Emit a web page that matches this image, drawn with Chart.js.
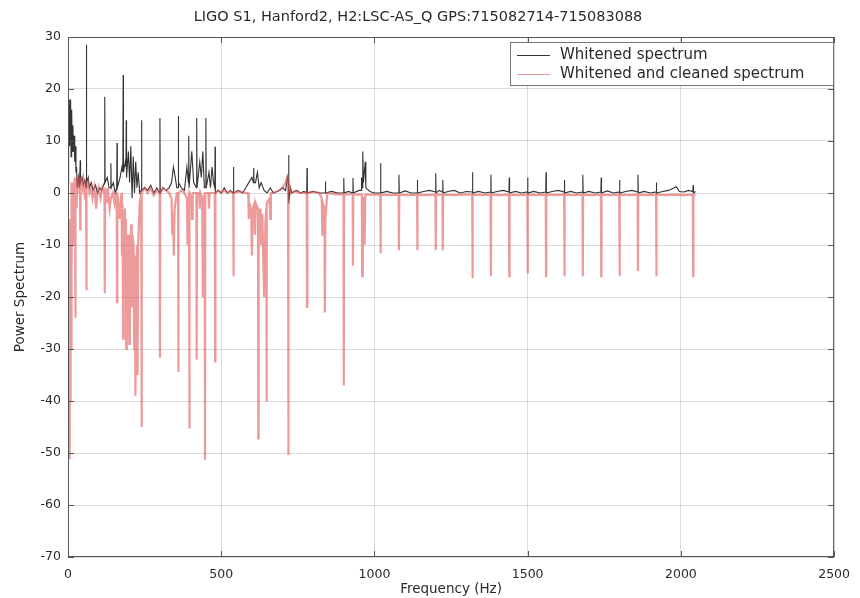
<!DOCTYPE html>
<html>
<head>
<meta charset="utf-8">
<title>LIGO S1 whitened spectrum</title>
<script src="https://cdn.jsdelivr.net/npm/chart.js@4.4.0/dist/chart.umd.min.js"></script>
<style>
  html, body { margin: 0; padding: 0; background: #fff; }
  #wrap { width: 860px; height: 598px; }
</style>
</head>
<body>
<div id="wrap"><canvas id="spectrum" width="860" height="598"></canvas></div>
<script>
// values: [frequency Hz, power]
const whitenedPoints = [
  [0,2],[1,12],[2,8],[3,17],[4,10],[5,18],[6,9],[7,15],[8,11],[9,18],[10,7],[11,14],[12,9],[13,16],[14,8],[16,13],[18,8],[20,11],[22,6],[24,9],[26,4],[28,5],[30,1],
  [34,3],[37,1],[39,1],[40,6.3],[41,2],[46,3],[50,1.5],[55,2.5],[59,1],[60,28.5],[61,2],[66,3],[70,1],[76,2],[82,0.5],[90,1.5],[96,0],[104,1],[110,0.5],
  [119,2],[120,18.5],[121,2],[128,3],[134,1],[139,1],[140,5.7],[141,1],[148,2],[154,0],[159,1],[160,9.6],[161,1],[170,3],[176,5],[179,4],[180,22.7],[181,4],
  [187,6],[189,5],[190,14],[191,3],[197,8],[201,2],[205,9],[209,-1],[213,7],[217,0],[221,6],[225,1],[229,4],[234,0],[239,0.5],[240,14],[241,0.5],[250,1],
  [260,0.5],[270,1.5],[280,0],[290,1],[299,0],[300,14.4],[301,0],[310,1],[320,0.5],[330,1],[338,2],[344,5],[350,3],[355,1],[359,1],[360,14.8],[361,2],
  [370,1],[380,0.5],[388,5],[393,2],[394,11],[395,1],[404,8],[410,2],[419,1],[420,14.4],[421,1],[430,6],[435,3],[440,8],[445,1],[449,1],[450,14.4],[451,1],
  [460,4],[465,1],[470,5],[475,2],[479,1],[480,8.9],[481,0],[490,0.5],[500,0],[510,1],[520,0],[530,0.5],[539,0],[540,5],[541,0],[555,0.5],[570,0],[580,1],
  [590,2],[600,3],[605,2],[606,4.8],[607,2],[612,2],[618,4],[624,1],[630,2],[640,0.5],[650,0],[660,1],[670,0],[690,0.5],[700,1],[710,0.5],[716,3],[719,2],
  [720,7.3],[721,-2],[726,1],[730,0],[745,0.5],[760,0],[770,0.3],[779,0],[780,4.8],[781,0],[800,0.3],[820,0],[839,0],[840,2.2],[841,0],[860,0.3],[880,0],
  [899,0],[900,2.9],[901,0],[915,0.3],[929,0],[930,2.9],[931,0],[950,0.5],[957,0.5],[958,3],[960,1],[962,8],[964,2],[970,6],[972,1],[985,0.3],[1000,0],
  [1019,0],[1020,5.7],[1021,0],[1040,0.3],[1060,0],[1079,0],[1080,3.5],[1081,0],[1100,0.4],[1120,0],[1139,0],[1140,2.5],[1141,0],[1160,0.3],[1180,0.5],
  [1199,0.2],[1200,3.8],[1201,0],[1212,0.5],[1222,0.2],[1223,2.5],[1224,0],[1240,0.3],[1260,0.5],[1280,0],[1300,0.3],[1319,0.2],[1320,4],[1321,0],
  [1340,0.3],[1360,0],[1379,0.2],[1380,3.5],[1381,0],[1400,0.3],[1420,0.5],[1439,0.2],[1440,3],[1441,0],[1460,0.3],[1480,0],[1499,0.2],[1500,3],[1501,0],
  [1520,0.3],[1540,0],[1559,0.2],[1560,4],[1561,0],[1580,0.3],[1600,0.5],[1619,0.2],[1620,2.5],[1621,0],[1640,0.3],[1660,0],[1679,0.2],[1680,3.5],[1681,0],
  [1700,0.3],[1720,0],[1739,0.2],[1740,3],[1741,0],[1760,0.4],[1780,0],[1799,0.2],[1800,2.5],[1801,0],[1820,0.3],[1840,0.5],[1859,0.2],[1860,3.5],[1861,0],
  [1880,0.3],[1900,0],[1919,0.2],[1920,2],[1921,0],[1940,0.3],[1960,0.5],[1985,1.2],[1995,0.3],[2010,0.2],[2025,0.5],[2039,0.3],[2040,1.5],[2041,0],[2048,0.3]
];

const cleanedPoints = [
  [0,-5],[1,-30],[2,-45],[3,-20],[4,-51],[5,-35],[6,-48],[7,-10],[8,-40],[9,-5],[10,-30],[11,2],[12,-15],[14,1],[16,-10],[18,2],[20,-5],[22,3],[23,1],
  [24,-24],[25,2],[28,-3],[30,3],[33,0],[36,2],[39,1],[40,-7],[41,3],[47,1],[50,2.5],[54,0],[59,2],[60,-18.7],[61,1],[66,2],[70,0],[76,1],[80,-1],[86,1],
  [92,-3],[96,0],[100,1],[106,-1],[112,1],[119,0],[120,-19.3],[121,1],[126,-2],[130,1],[136,-3],[140,-1],[146,0],[152,-2],[156,0],[159,0],[160,-21],[161,0],
  [168,-5],[172,-1],[175,0],[176,-12],[178,-2],[180,-28],[182,-8],[186,-3],[187,-20],[189,-5],[190,-30],[192,-10],[196,-8],[197,-25],[199,-12],[200,-29],
  [202,-15],[206,-6],[208,-22],[210,-8],[214,-10],[216,-30],[218,-12],[220,-39],[222,-20],[225,-10],[227,-35],[229,-10],[234,-2],[239,0],[240,-45],[241,0],
  [250,1],[260,0],[270,1],[280,-0.5],[290,0.5],[299,0],[300,-31.7],[301,0],[310,1],[320,0.5],[330,0],[338,-1],[340,-8],[343,-4],[345,-12],[348,-3],[355,0],
  [359,0],[360,-34.4],[361,0],[370,0.5],[380,0],[388,-1],[390,-10],[392,-3],[395,0],[396,-45.3],[397,0],[403,-1],[405,-5],[407,0],[419,0],[420,-32],[421,0],
  [428,0],[430,-3],[432,0],[438,-1],[440,-20],[442,-2],[446,0],[447,-51.3],[448,0],[458,0],[460,-3],[462,0],[479,0],[480,-32.4],[481,0],[490,0.5],[500,0],
  [510,0.5],[520,0],[530,0.3],[539,0],[540,-16],[541,0],[560,0.3],[580,0],[588,0],[590,-5],[594,-2],[598,-4],[600,-12],[603,-3],[608,-2],[610,-8],[613,-2],
  [620,-3],[621,-47.2],[622,-5],[628,-3],[630,-10],[634,-4],[640,-20],[644,-6],[647,-3],[648,-40.1],[649,-2],[658,-1],[660,-5],[662,0],[670,0],[690,0.5],
  [700,1],[710,2],[715,3],[718,2],[719,-50.4],[720,2],[728,0],[740,0.3],[760,0],[779,0],[780,-21.9],[781,0],[800,0.2],[820,0],[828,-1],[830,-8],[832,-2],
  [837,-3],[838,-23],[840,-5],[846,0],[870,-0.2],[899,-0.3],[900,-37],[901,-0.3],[920,-0.2],[929,-0.3],[930,-14],[931,-0.3],[950,-0.3],[959,-0.3],[960,-16],
  [962,-1],[967,-1],[968,-10],[970,-0.3],[1000,-0.3],[1019,-0.3],[1020,-11.6],[1021,-0.3],[1050,-0.4],[1079,-0.3],[1080,-11],[1081,-0.3],[1110,-0.4],
  [1139,-0.3],[1140,-11],[1141,-0.3],[1170,-0.4],[1199,-0.3],[1200,-11],[1201,-0.3],[1222,-0.3],[1223,-11],[1224,-0.3],[1260,-0.4],[1290,-0.3],
  [1319,-0.3],[1320,-16.4],[1321,-0.3],[1350,-0.4],[1379,-0.3],[1380,-16],[1381,-0.3],[1410,-0.4],[1439,-0.3],[1440,-16],[1441,-0.3],[1470,-0.4],
  [1499,-0.3],[1500,-15.5],[1501,-0.3],[1530,-0.4],[1559,-0.3],[1560,-16],[1561,-0.3],[1590,-0.4],[1619,-0.3],[1620,-16],[1621,-0.3],[1650,-0.4],
  [1679,-0.3],[1680,-16],[1681,-0.3],[1710,-0.4],[1739,-0.3],[1740,-16],[1741,-0.3],[1770,-0.4],[1799,-0.3],[1800,-16],[1801,-0.3],[1830,-0.4],
  [1859,-0.3],[1860,-15],[1861,-0.3],[1890,-0.4],[1919,-0.3],[1920,-16],[1921,-0.3],[1950,-0.4],[1980,-0.3],[2010,-0.4],[2039,-0.3],[2040,-16],[2041,-0.3],
  [2048,-0.3]
];

const seriesLabels = ['Whitened spectrum', 'Whitened and cleaned spectrum'];
const chartTitle = 'LIGO S1, Hanford2, H2:LSC-AS_Q GPS:715082714-715083088';
const xRange = [0, 2500];
const yRange = [-70, 30];

const FONT = 'DejaVu Sans';
const TEXT = '#2a2a2a';
const GRID = 'rgba(0, 0, 0, 0.14)';
const colors = ['#333333', 'rgba(224, 92, 92, 0.62)'];

// MATLAB style box, inward ticks and legend inside the axes
const matlabFrame = {
  id: 'matlabFrame',
  afterDraw(chart) {
    const { ctx, chartArea: a, scales: { x, y } } = chart;
    ctx.save();
    ctx.strokeStyle = '#555';
    ctx.lineWidth = 1;
    ctx.strokeRect(a.left + 0.5, a.top + 0.5, a.width - 1, a.height - 1);

    ctx.beginPath();
    x.ticks.forEach(t => {
      const px = Math.round(x.getPixelForValue(t.value)) + 0.5;
      ctx.moveTo(px, a.bottom); ctx.lineTo(px, a.bottom - 6);
      ctx.moveTo(px, a.top); ctx.lineTo(px, a.top + 6);
    });
    y.ticks.forEach(t => {
      const py = Math.round(y.getPixelForValue(t.value)) + 0.5;
      ctx.moveTo(a.left, py); ctx.lineTo(a.left + 6, py);
      ctx.moveTo(a.right, py); ctx.lineTo(a.right - 6, py);
    });
    ctx.stroke();

    // legend
    const boxL = a.left + 442, boxT = a.top + 5, boxW = 323, boxH = 43;
    ctx.fillStyle = '#fff';
    ctx.fillRect(boxL, boxT, boxW, boxH);
    ctx.strokeStyle = '#777';
    ctx.strokeRect(boxL + 0.5, boxT + 0.5, boxW, boxH);
    ctx.font = '15px "' + FONT + '"';
    ctx.textBaseline = 'middle';
    chart.data.datasets.forEach((ds, i) => {
      const ly = boxT + 13 + i * 19;
      ctx.strokeStyle = ds.borderColor;
      ctx.lineWidth = 1;
      ctx.beginPath();
      ctx.moveTo(boxL + 7, ly + 0.5); ctx.lineTo(boxL + 40, ly + 0.5);
      ctx.stroke();
      ctx.fillStyle = TEXT;
      ctx.fillText(ds.label, boxL + 50, ly);
    });
    ctx.restore();
  }
};

const ctx = document.getElementById('spectrum').getContext('2d');
new Chart(ctx, {
  type: 'line',
  data: {
    datasets: [
      {
        label: seriesLabels[0],
        data: whitenedPoints.map(([x, y]) => ({ x, y })),
        borderColor: colors[0],
        borderWidth: 1.1,
        pointRadius: 0,
        tension: 0,
        order: 1
      },
      {
        label: seriesLabels[1],
        data: cleanedPoints.map(([x, y]) => ({ x, y })),
        borderColor: colors[1],
        borderWidth: 2.2,
        pointRadius: 0,
        tension: 0,
        order: 0
      }
    ]
  },
  options: {
    responsive: false,
    animation: false,
    layout: { padding: { left: 0, right: 24, top: 0, bottom: 0 } },
    plugins: {
      legend: { display: false },
      tooltip: { enabled: false },
      title: {
        display: true,
        text: chartTitle,
        color: TEXT,
        font: { family: FONT, size: 14.5, weight: 'normal' },
        padding: { top: 9, bottom: 10.6 }
      }
    },
    scales: {
      x: {
        type: 'linear',
        min: xRange[0],
        max: xRange[1],
        ticks: {
          stepSize: 500,
          color: TEXT,
          padding: 10,
          maxRotation: 0,
          font: { family: FONT, size: 12.5 },
          callback: v => String(v)
        },
        grid: { color: GRID, drawTicks: false },
        border: { display: false },
        title: {
          display: true,
          text: 'Frequency (Hz)',
          color: TEXT,
          font: { family: FONT, size: 13.5 },
          padding: 0
        },
        afterFit(scale) { scale.height = 41; }
      },
      y: {
        min: yRange[0],
        max: yRange[1],
        ticks: {
          stepSize: 10,
          color: TEXT,
          padding: 7,
          font: { family: FONT, size: 12.5 },
          callback: v => String(v)
        },
        grid: { color: GRID, drawTicks: false },
        border: { display: false },
        title: {
          display: true,
          text: 'Power Spectrum',
          color: TEXT,
          font: { family: FONT, size: 13.5 },
          padding: { top: 12, bottom: 0 }
        },
        afterFit(scale) { scale.width = 68; }
      }
    }
  },
  plugins: [matlabFrame]
});
</script>
</body>
</html>
